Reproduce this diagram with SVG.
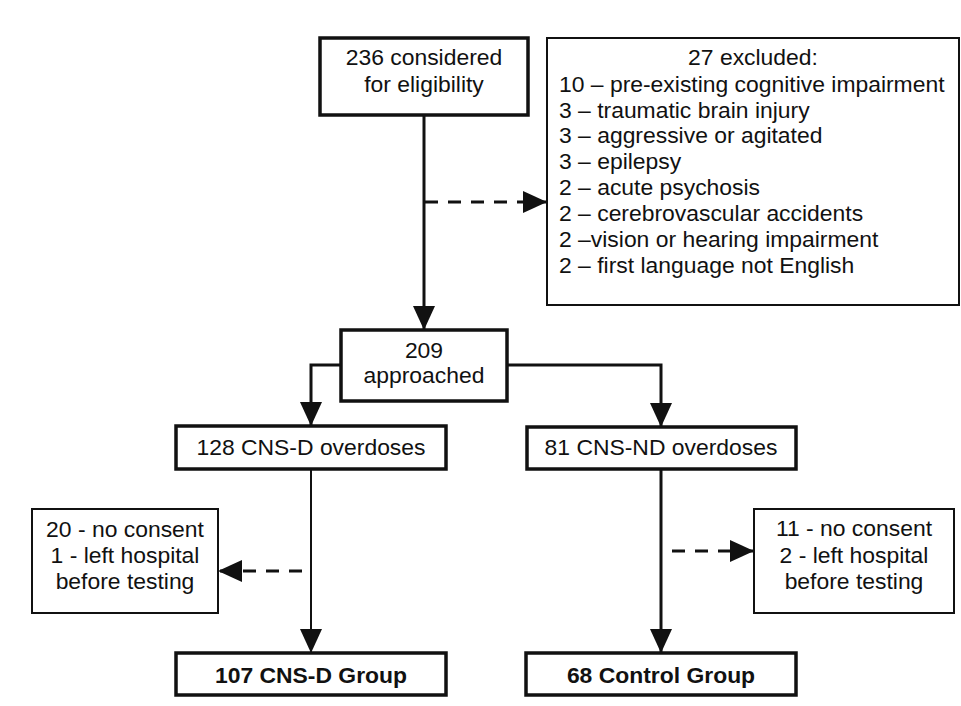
<svg xmlns="http://www.w3.org/2000/svg" width="961" height="706" viewBox="0 0 961 706">
<style>
text{font-family:"Liberation Sans",Arial,sans-serif;font-size:22.9px;fill:#111}
.c{text-anchor:middle}
.b{font-weight:bold}
.thick{fill:#fff;stroke:#111;stroke-width:3.5}
.thin{fill:#fff;stroke:#111;stroke-width:2}
.ln{fill:none;stroke:#111;stroke-width:3}
.ln2{fill:none;stroke:#111;stroke-width:2}
.dash{fill:none;stroke:#111;stroke-width:3;stroke-dasharray:13 10}
</style>
<defs>
<marker id="ah" markerUnits="userSpaceOnUse" markerWidth="24" markerHeight="22" refX="24" refY="11" orient="auto">
<path d="M0,0 L24,11 L0,22 z" fill="#111"/>
</marker>
</defs>
<rect width="961" height="706" fill="#fff"/>
<g id="connectors">
<line class="ln" x1="424" y1="115" x2="424" y2="330" marker-end="url(#ah)"/>
<line class="dash" x1="425" y1="202" x2="547" y2="202" marker-end="url(#ah)"/>
<polyline class="ln" points="341,365 311,365 311,426" marker-end="url(#ah)"/>
<polyline class="ln" points="507,365 661,365 661,427" marker-end="url(#ah)"/>
<line class="ln2" x1="311" y1="469" x2="311" y2="653" marker-end="url(#ah)"/>
<line class="ln" x1="661" y1="468" x2="661" y2="653" marker-end="url(#ah)"/>
<line class="dash" x1="302" y1="571" x2="218" y2="571" marker-end="url(#ah)"/>
<line class="dash" x1="672" y1="551" x2="754" y2="551" marker-end="url(#ah)"/>
</g>
<g id="considered">
<rect class="thick" x="320" y="38" width="208" height="77"/>
<text class="c" x="424" y="65">236 considered</text>
<text class="c" x="424" y="92">for eligibility</text>
</g>
<g id="excluded">
<rect class="thin" x="547" y="38" width="412" height="267"/>
<text class="c" x="753" y="65">27 excluded:</text>
<text x="559" y="92">10 – pre-existing cognitive impairment</text>
<text x="559" y="118">3 – traumatic brain injury</text>
<text x="559" y="143">3 – aggressive or agitated</text>
<text x="559" y="169">3 – epilepsy</text>
<text x="559" y="195">2 – acute psychosis</text>
<text x="559" y="221">2 – cerebrovascular accidents</text>
<text x="559" y="247">2 –vision or hearing impairment</text>
<text x="559" y="273">2 – first language not English</text>
</g>
<g id="approached">
<rect class="thick" x="341" y="330" width="166" height="71"/>
<text class="c" x="424" y="358">209</text>
<text class="c" x="424" y="383">approached</text>
</g>
<g id="cnsd">
<rect class="thick" x="176" y="426" width="270" height="43"/>
<text class="c" x="311" y="455">128 CNS-D overdoses</text>
</g>
<g id="cnsnd">
<rect class="thick" x="527" y="427" width="269" height="42"/>
<text class="c" x="661" y="455">81 CNS-ND overdoses</text>
</g>
<g id="excl-left">
<rect class="thin" x="32" y="509" width="186" height="104"/>
<text class="c" x="125" y="537">20 - no consent</text>
<text class="c" x="125" y="563">1 - left hospital</text>
<text class="c" x="125" y="589">before testing</text>
</g>
<g id="excl-right">
<rect class="thin" x="754" y="509" width="200" height="104"/>
<text class="c" x="854" y="536">11 - no consent</text>
<text class="c" x="854" y="563">2 - left hospital</text>
<text class="c" x="854" y="589">before testing</text>
</g>
<g id="cnsd-group">
<rect class="thick" x="176" y="653" width="270" height="42"/>
<text class="c b" x="311" y="683">107 CNS-D Group</text>
</g>
<g id="control-group">
<rect class="thick" x="526" y="653" width="270" height="42"/>
<text class="c b" x="661" y="683">68 Control Group</text>
</g>
</svg>
